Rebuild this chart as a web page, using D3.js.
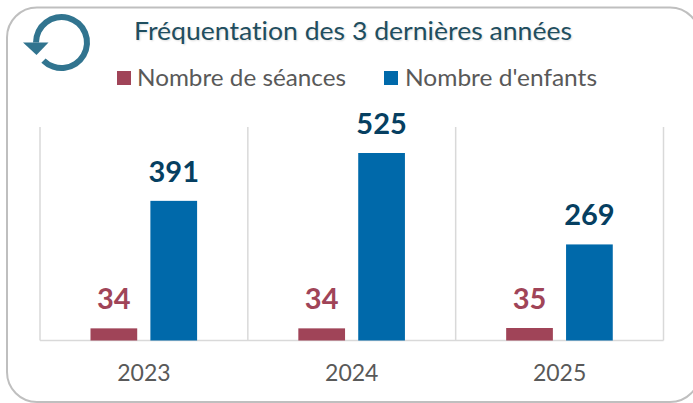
<!DOCTYPE html>
<html><head><meta charset="utf-8">
<script src="https://cdnjs.cloudflare.com/ajax/libs/d3/7.9.0/d3.min.js"></script>
<style>html,body{margin:0;padding:0;background:#fff}svg{display:block}text{font-family:Lato,"Open Sans",sans-serif;font-variant-ligatures:none}</style>
</head><body><svg id="c" width="693" height="403"></svg>
<script>
const years = ["2023","2024","2025"];
const seriesNames = ["Nombre de séances","Nombre d'enfants"];
const seances = [34,34,35];
const enfants = [391,525,269];
const colors = ["#a04458","#0069aa"];
const labelColors = ["#a04458","#063f61"];
const title = "Fréquentation des 3 dernières années";

const svg = d3.select("#c");
const x0 = d3.scaleBand().domain(years).range([40,663.5]);
const x1 = d3.scaleBand().domain([0,1]).range([50.5,157.1]).paddingInner(0.22).paddingOuter(0);
const y = d3.scaleLinear().domain([0,525]).range([340.5,153]);

svg.append("rect").attr("x",7).attr("y",7.5).attr("width",693).attr("height",394.5).attr("rx",30)
  .attr("fill","#fff").attr("stroke","#bfbfbf").attr("stroke-width",2);

const icon = svg.append("g");
icon.append("path").attr("d",d3.arc()({innerRadius:22.5,outerRadius:28.5,startAngle:-Math.PI*0.5,endAngle:Math.PI*1.25}))
  .attr("transform","translate(61.5,42.5)").attr("fill","#31748f");
icon.append("path").attr("d","M23,42.5L48.5,42.5L36.5,55Z").attr("fill","#31748f");

svg.append("text").attr("x",353).attr("y",40).attr("text-anchor","middle").attr("font-size",25)
  .attr("textLength",438).attr("lengthAdjust","spacingAndGlyphs")
  .style("text-shadow","1px 1px 2px rgba(0,0,0,0.14)")
  .attr("fill","#1f4e5f").text(title);

const leg = [[117,137,209],[384,405,192]];
seriesNames.forEach((s,i)=>{
  svg.append("rect").attr("x",leg[i][0]).attr("y",71).attr("width",14).attr("height",14).attr("fill",colors[i]);
  svg.append("text").attr("x",leg[i][1]).attr("y",86).attr("font-size",23.5).attr("fill","#595959")
    .attr("textLength",leg[i][2]).attr("lengthAdjust","spacingAndGlyphs").text(s);
});

const grid = svg.append("g").attr("stroke","#d9d9d9").attr("stroke-width",1.5);
[...years.map(d=>x0(d)),x0.range()[1]].forEach(v=>{
  grid.append("line").attr("x1",v).attr("x2",v).attr("y1",127).attr("y2",340.5);
});
grid.append("line").attr("x1",x0.range()[0]).attr("x2",x0.range()[1]).attr("y1",340.5).attr("y2",340.5);

[seances,enfants].forEach((vals,i)=>{
  const g = svg.append("g");
  g.selectAll("rect").data(vals).join("rect")
    .attr("x",(d,k)=>x0(years[k])+x1(i)).attr("width",x1.bandwidth())
    .attr("y",d=>y(d)).attr("height",d=>y(0)-y(d)).attr("fill",colors[i]);
  g.selectAll("text").data(vals).join("text")
    .attr("x",(d,k)=>x0(years[k])+x1(i)+x1.bandwidth()/2).attr("y",d=>y(d)-19)
    .attr("text-anchor","middle").attr("font-size",29).attr("font-weight",700)
    .attr("fill",labelColors[i]).text(d=>d);
});

svg.append("g").selectAll("text").data(years).join("text")
  .attr("x",d=>x0(d)+x0.bandwidth()/2).attr("y",381).attr("text-anchor","middle")
  .attr("font-size",23).attr("fill","#595959").text(d=>d);
</script></body></html>
